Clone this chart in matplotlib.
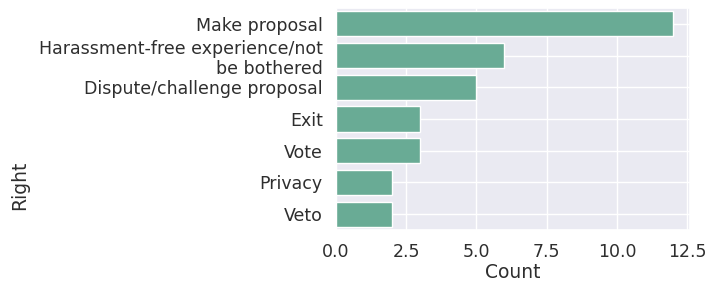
import matplotlib
matplotlib.use("Agg")
import matplotlib.pyplot as plt
import seaborn as sns

rights = ["Make proposal", "Harassment-free experience/not\nbe bothered",
          "Dispute/challenge proposal", "Exit", "Vote", "Privacy", "Veto"]
counts = [12, 6, 5, 3, 3, 2, 2]

sns.set_theme(style="darkgrid")
plt.rcParams["font.family"] = ["DejaVu Sans"]
txt = "#2e2e2e"

fig, ax = plt.subplots(figsize=(7.07, 2.82), dpi=100)
ax.barh(rights, counts, height=0.8, color="#69ab95", edgecolor="white", linewidth=1)
ax.set_ylim(6.5, -0.5)
ax.set_xlim(0, 12.6)
ax.tick_params(labelsize=12.5, labelcolor=txt)
ax.set_xlabel("Count", fontsize=13.5, labelpad=1, color=txt)
ax.set_ylabel("Right", fontsize=13.5, color=txt)
ax.yaxis.set_label_coords(-0.866, 0.2)
fig.subplots_adjust(left=0.475, right=0.976, top=0.972, bottom=0.184)
fig.savefig("out.png", dpi=100)
